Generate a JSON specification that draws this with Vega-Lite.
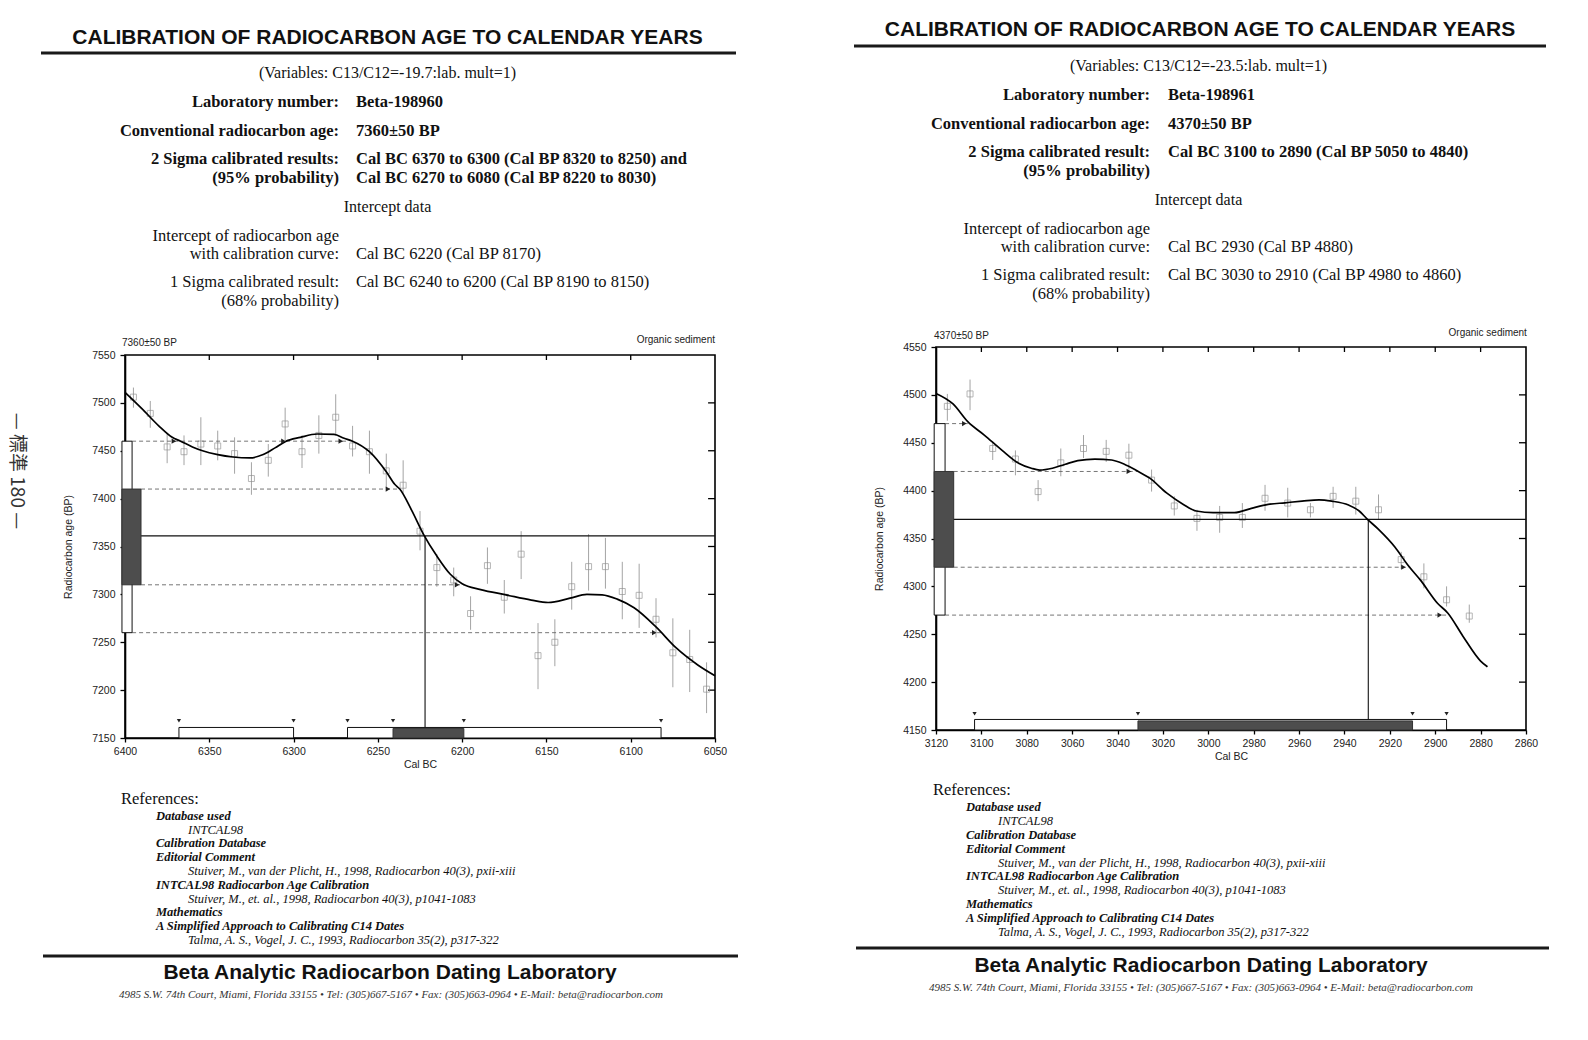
{
"$schema":"https://vega.github.io/schema/vega-lite/v6.json",
"padding":0,
"background":"#ffffff",
"bounds":"flush",
"spacing":811,
"config":{"view":{"stroke":null},"axis":{"labelFont":"Liberation Sans","titleFont":"Liberation Sans","grid":false},"text":{"font":"Liberation Serif","color":"#111111"}},
"datasets":{
"hdrL":[
{"role":"title","px":386.5,"ly":-3.6842,"text":"CALIBRATION OF RADIOCARBON  AGE TO CALENDAR YEARS"},
{"role":"page","px":16,"ly":41.895,"text":"— 標準 180 —"},
{"role":"note","px":386.5,"ly":0,"text":"(Variables:  C13/C12=-19.7:lab. mult=1)"},
{"role":"labelB","px":338,"ly":3.1,"text":"Laboratory number:"},
{"role":"valueB","px":355,"ly":3.1,"text":"Beta-198960"},
{"role":"labelB","px":338,"ly":6.15,"text":"Conventional radiocarbon age:"},
{"role":"valueB","px":355,"ly":6.15,"text":"7360±50 BP"},
{"role":"labelB","px":338,"ly":9.1,"text":"2 Sigma calibrated results:"},
{"role":"valueB","px":355,"ly":9.1,"text":"Cal BC 6370 to 6300 (Cal BP 8320 to 8250) and"},
{"role":"labelB","px":338,"ly":11.1,"text":"(95% probability)"},
{"role":"valueB","px":355,"ly":11.1,"text":"Cal BC 6270 to 6080 (Cal BP 8220 to 8030)"},
{"role":"note","px":386.5,"ly":14.1,"text":"Intercept data"},
{"role":"labelN","px":338,"ly":17.2,"text":"Intercept of radiocarbon age"},
{"role":"labelN","px":338,"ly":19.05,"text":"with calibration curve:"},
{"role":"valueN","px":355,"ly":19.05,"text":"Cal BC 6220 (Cal BP 8170)"},
{"role":"labelN","px":338,"ly":22,"text":"1 Sigma calibrated result:"},
{"role":"valueN","px":355,"ly":22,"text":"Cal BC 6240 to 6200 (Cal BP 8190 to 8150)"},
{"role":"labelN","px":338,"ly":23.95,"text":"(68% probability)"}
],
"ruleHL":[{"kind":"rule","px":40,"px2":735,"ly":-2.1053,"ly2":-2.1053},{"kind":"anchor","px":0,"px2":0,"ly":-7.578947,"ly2":-7.3}],
"hdrR":[
{"role":"title","px":1199,"ly":-3.7895,"text":"CALIBRATION OF RADIOCARBON  AGE TO CALENDAR YEARS"},
{"role":"note","px":1197.5,"ly":0,"text":"(Variables:  C13/C12=-23.5:lab. mult=1)"},
{"role":"labelB","px":1149,"ly":3.1,"text":"Laboratory number:"},
{"role":"valueB","px":1167,"ly":3.1,"text":"Beta-198961"},
{"role":"labelB","px":1149,"ly":6.15,"text":"Conventional radiocarbon age:"},
{"role":"valueB","px":1167,"ly":6.15,"text":"4370±50 BP"},
{"role":"labelB","px":1149,"ly":9.1,"text":"2 Sigma calibrated result:"},
{"role":"valueB","px":1167,"ly":9.1,"text":"Cal BC 3100 to 2890 (Cal BP 5050 to 4840)"},
{"role":"labelB","px":1149,"ly":11.1,"text":"(95% probability)"},
{"role":"note","px":1197.5,"ly":14.1,"text":"Intercept data"},
{"role":"labelN","px":1149,"ly":17.2,"text":"Intercept of radiocarbon age"},
{"role":"labelN","px":1149,"ly":19.05,"text":"with calibration curve:"},
{"role":"valueN","px":1167,"ly":19.05,"text":"Cal BC 2930 (Cal BP 4880)"},
{"role":"labelN","px":1149,"ly":22,"text":"1 Sigma calibrated result:"},
{"role":"valueN","px":1167,"ly":22,"text":"Cal BC 3030 to 2910 (Cal BP 4980 to 4860)"},
{"role":"labelN","px":1149,"ly":23.95,"text":"(68% probability)"}
],
"ruleHR":[{"kind":"rule","px":853,"px2":1545,"ly":-2.1053,"ly2":-2.1053}],
"refsL":[
{"role":"heading","px":120,"ly":-0.2,"text":"References:"},
{"role":"topic","px":155,"ly":1,"text":"Database used"},
{"role":"citation","px":187,"ly":2,"text":"INTCAL98"},
{"role":"topic","px":155,"ly":3,"text":"Calibration Database"},
{"role":"topic","px":155,"ly":4,"text":"Editorial Comment"},
{"role":"citation","px":187,"ly":5,"text":"Stuiver, M., van der Plicht, H., 1998, Radiocarbon 40(3), pxii-xiii"},
{"role":"topic","px":155,"ly":6,"text":"INTCAL98 Radiocarbon Age Calibration"},
{"role":"citation","px":187,"ly":7,"text":"Stuiver, M., et. al., 1998, Radiocarbon 40(3), p1041-1083"},
{"role":"topic","px":155,"ly":8,"text":"Mathematics"},
{"role":"topic","px":155,"ly":9,"text":"A Simplified Approach to Calibrating C14 Dates"},
{"role":"citation","px":187,"ly":10,"text":"Talma, A. S., Vogel, J. C., 1993, Radiocarbon 35(2), p317-322"},
{"role":"lab","px":389,"ly":12.3913,"text":"Beta Analytic Radiocarbon Dating Laboratory"},
{"role":"address","px":390,"ly":13.9855,"text":"4985 S.W. 74th Court, Miami, Florida 33155 • Tel: (305)667-5167 • Fax: (305)663-0964 • E-Mail: beta@radiocarbon.com"}
],
"ruleRL":[{"px":42,"px2":737,"ly":11.1594,"ly2":11.1594}],
"refsR":[
{"role":"heading","px":932,"ly":-0.2,"text":"References:"},
{"role":"topic","px":965,"ly":1,"text":"Database used"},
{"role":"citation","px":997,"ly":2,"text":"INTCAL98"},
{"role":"topic","px":965,"ly":3,"text":"Calibration Database"},
{"role":"topic","px":965,"ly":4,"text":"Editorial Comment"},
{"role":"citation","px":997,"ly":5,"text":"Stuiver, M., van der Plicht, H., 1998, Radiocarbon 40(3), pxii-xiii"},
{"role":"topic","px":965,"ly":6,"text":"INTCAL98 Radiocarbon Age Calibration"},
{"role":"citation","px":997,"ly":7,"text":"Stuiver, M., et. al., 1998, Radiocarbon 40(3), p1041-1083"},
{"role":"topic","px":965,"ly":8,"text":"Mathematics"},
{"role":"topic","px":965,"ly":9,"text":"A Simplified Approach to Calibrating C14 Dates"},
{"role":"citation","px":997,"ly":10,"text":"Talma, A. S., Vogel, J. C., 1993, Radiocarbon 35(2), p317-322"},
{"role":"lab","px":1200,"ly":12.446,"text":"Beta Analytic Radiocarbon Dating Laboratory"},
{"role":"address","px":1200,"ly":14.0288,"text":"4985 S.W. 74th Court, Miami, Florida 33155 • Tel: (305)667-5167 • Fax: (305)663-0964 • E-Mail: beta@radiocarbon.com"}
],
"ruleRR":[{"px":855,"px2":1548,"ly":11.1511,"ly2":11.1511}],
"frameL":[{"x0":6400,"x1":6050,"y0":7150,"y1":7550}],
"ticksL":[
{"x0":6350,"x1":6350,"y0":7550,"y1":7544.8},{"x0":6300,"x1":6300,"y0":7550,"y1":7544.8},{"x0":6250,"x1":6250,"y0":7550,"y1":7544.8},{"x0":6200,"x1":6200,"y0":7550,"y1":7544.8},{"x0":6150,"x1":6150,"y0":7550,"y1":7544.8},{"x0":6100,"x1":6100,"y0":7550,"y1":7544.8},
{"x0":6050,"x1":6054.1,"y0":7200,"y1":7200},{"x0":6050,"x1":6054.1,"y0":7250,"y1":7250},{"x0":6050,"x1":6054.1,"y0":7300,"y1":7300},{"x0":6050,"x1":6054.1,"y0":7350,"y1":7350},{"x0":6050,"x1":6054.1,"y0":7400,"y1":7400},{"x0":6050,"x1":6054.1,"y0":7450,"y1":7450},{"x0":6050,"x1":6054.1,"y0":7500,"y1":7500}
],
"curveL":[
{"year":6400,"age":7511},{"year":6390,"age":7494},{"year":6380,"age":7476},{"year":6372,"age":7464},{"year":6367,"age":7460},{"year":6360,"age":7454},{"year":6354,"age":7450},{"year":6345,"age":7446},{"year":6336,"age":7443.5},{"year":6326,"age":7442.5},{"year":6318,"age":7446},{"year":6311,"age":7453},{"year":6305,"age":7459.5},{"year":6296,"age":7464},{"year":6286,"age":7467.5},{"year":6276,"age":7467},{"year":6270,"age":7463},{"year":6265,"age":7460},{"year":6255,"age":7449},{"year":6245,"age":7428},{"year":6240,"age":7415},{"year":6237,"age":7410},{"year":6230,"age":7388},{"year":6223,"age":7363},{"year":6215,"age":7340},{"year":6207,"age":7321},{"year":6200,"age":7311},{"year":6189,"age":7305},{"year":6174,"age":7299.5},{"year":6159,"age":7294},{"year":6149,"age":7291.5},{"year":6136,"age":7296},{"year":6126,"age":7300},{"year":6117,"age":7299.5},{"year":6108,"age":7295},{"year":6098,"age":7286},{"year":6085,"age":7266},{"year":6073,"age":7244},{"year":6060,"age":7226},{"year":6050,"age":7215}
],
"ptsL":[
{"year":6395,"age":7506,"lo":7495,"hi":7516},{"year":6385,"age":7489,"lo":7474,"hi":7502},{"year":6375,"age":7454,"lo":7437,"hi":7468},{"year":6365,"age":7449,"lo":7435,"hi":7466},{"year":6355,"age":7457,"lo":7435,"hi":7485},{"year":6345,"age":7455,"lo":7440,"hi":7471},{"year":6335,"age":7447,"lo":7426,"hi":7464},{"year":6325,"age":7421,"lo":7404,"hi":7438},{"year":6315,"age":7440,"lo":7423,"hi":7457},{"year":6305,"age":7478,"lo":7461,"hi":7495},{"year":6295,"age":7449,"lo":7432,"hi":7466},{"year":6285,"age":7466,"lo":7447,"hi":7487},{"year":6275,"age":7485,"lo":7466,"hi":7509},{"year":6265,"age":7455,"lo":7444,"hi":7476},{"year":6255,"age":7449,"lo":7426,"hi":7471},{"year":6245,"age":7429,"lo":7411,"hi":7447},{"year":6235,"age":7414,"lo":7406,"hi":7440},{"year":6225,"age":7366,"lo":7346,"hi":7387},{"year":6215,"age":7328,"lo":7308,"hi":7342},{"year":6205,"age":7315,"lo":7298,"hi":7328},{"year":6195,"age":7280,"lo":7263,"hi":7298},{"year":6185,"age":7330,"lo":7311,"hi":7349},{"year":6175,"age":7297,"lo":7280,"hi":7315},{"year":6165,"age":7342,"lo":7316,"hi":7366},{"year":6155,"age":7236,"lo":7201,"hi":7270},{"year":6145,"age":7250,"lo":7225,"hi":7274},{"year":6135,"age":7308,"lo":7284,"hi":7334},{"year":6125,"age":7329,"lo":7304,"hi":7363},{"year":6115,"age":7329,"lo":7306,"hi":7359},{"year":6105,"age":7303,"lo":7274,"hi":7334},{"year":6095,"age":7299,"lo":7265,"hi":7332},{"year":6085,"age":7274,"lo":7255,"hi":7296},{"year":6075,"age":7239,"lo":7203,"hi":7275},{"year":6065,"age":7232,"lo":7198,"hi":7263},{"year":6055,"age":7201,"lo":7176,"hi":7229}
],
"sigL":[{"age":7460,"from":6395.8,"to":6267},{"age":7410,"from":6390.5,"to":6238},{"age":7310,"from":6390.5,"to":6199},{"age":7260,"from":6395.8,"to":6082}],
"arrowsL":[{"year":6371,"age":7460},{"year":6306,"age":7460},{"year":6272,"age":7460},{"year":6244,"age":7410},{"year":6203,"age":7310},{"year":6086,"age":7260}],
"calL":[{"sigma":2,"from":6368,"to":6300,"y0":7150,"y1":7161},{"sigma":2,"from":6268,"to":6082,"y0":7150,"y1":7161},{"sigma":1,"from":6241,"to":6199,"y0":7150,"y1":7160}],
"endsL":[{"year":6368,"my":7168},{"year":6300,"my":7168},{"year":6268,"my":7168},{"year":6082,"my":7168},{"year":6241,"my":7168},{"year":6199,"my":7168}],
"distL":[{"sigma":2,"lo":7260,"hi":7460,"x0":6401.8,"x1":6395.8},{"sigma":1,"lo":7310,"hi":7410,"x0":6401.8,"x1":6390.5}],
"intL":[{"year":6222,"age":7361,"x0":6400,"x1":6050,"base":7150}],
"labL":[{"role":"age","px":6401.8,"py":7562.5,"text":"7360±50 BP"},{"role":"sample","px":6050,"py":7565.6,"text":"Organic sediment"}],
"frameR":[{"x0":3120,"x1":2860,"y0":4150,"y1":4550}],
"ticksR":[
{"x0":3100,"x1":3100,"y0":4550,"y1":4544.8},{"x0":3080,"x1":3080,"y0":4550,"y1":4544.8},{"x0":3060,"x1":3060,"y0":4550,"y1":4544.8},{"x0":3040,"x1":3040,"y0":4550,"y1":4544.8},{"x0":3020,"x1":3020,"y0":4550,"y1":4544.8},{"x0":3000,"x1":3000,"y0":4550,"y1":4544.8},{"x0":2980,"x1":2980,"y0":4550,"y1":4544.8},{"x0":2960,"x1":2960,"y0":4550,"y1":4544.8},{"x0":2940,"x1":2940,"y0":4550,"y1":4544.8},{"x0":2920,"x1":2920,"y0":4550,"y1":4544.8},{"x0":2900,"x1":2900,"y0":4550,"y1":4544.8},{"x0":2880,"x1":2880,"y0":4550,"y1":4544.8},
{"x0":2860,"x1":2863.1,"y0":4200,"y1":4200},{"x0":2860,"x1":2863.1,"y0":4250,"y1":4250},{"x0":2860,"x1":2863.1,"y0":4300,"y1":4300},{"x0":2860,"x1":2863.1,"y0":4350,"y1":4350},{"x0":2860,"x1":2863.1,"y0":4400,"y1":4400},{"x0":2860,"x1":2863.1,"y0":4450,"y1":4450},{"x0":2860,"x1":2863.1,"y0":4500,"y1":4500}
],
"curveR":[
{"year":3120,"age":4501.5},{"year":3112.5,"age":4490.5},{"year":3106,"age":4472},{"year":3098.6,"age":4457.8},{"year":3091,"age":4442.3},{"year":3083.6,"age":4428.6},{"year":3078,"age":4423.4},{"year":3074.3,"age":4421.5},{"year":3068.7,"age":4423.4},{"year":3063,"age":4427.6},{"year":3057.5,"age":4431.3},{"year":3050,"age":4433},{"year":3042.6,"age":4432},{"year":3037,"age":4427.6},{"year":3031.4,"age":4420.7},{"year":3025.8,"age":4413},{"year":3018.4,"age":4397.6},{"year":3011,"age":4385.6},{"year":3005.3,"age":4378.7},{"year":2997.9,"age":4377},{"year":2988.5,"age":4377},{"year":2981,"age":4381.5},{"year":2973.6,"age":4385.6},{"year":2966.2,"age":4387.3},{"year":2958.7,"age":4389},{"year":2951.2,"age":4390.4},{"year":2945.6,"age":4389},{"year":2938.2,"age":4384.9},{"year":2933.5,"age":4378.7},{"year":2930.2,"age":4370.8},{"year":2925.1,"age":4359.8},{"year":2917.7,"age":4340.9},{"year":2912,"age":4322},{"year":2906.5,"age":4306.5},{"year":2899,"age":4282.4},{"year":2894.4,"age":4272},{"year":2887.8,"age":4248},{"year":2880,"age":4222},{"year":2877,"age":4216}
],
"ptsR":[
{"year":3115,"age":4488,"lo":4473,"hi":4501},{"year":3105,"age":4501,"lo":4484,"hi":4516},{"year":3095,"age":4444,"lo":4432,"hi":4451},{"year":3085,"age":4433,"lo":4416,"hi":4442},{"year":3075,"age":4399,"lo":4389,"hi":4411},{"year":3065,"age":4429,"lo":4415,"hi":4444},{"year":3055,"age":4444,"lo":4434,"hi":4458},{"year":3045,"age":4441,"lo":4430,"hi":4453},{"year":3035,"age":4437,"lo":4422,"hi":4449},{"year":3025,"age":4411,"lo":4399,"hi":4422},{"year":3015,"age":4384,"lo":4374,"hi":4394},{"year":3005,"age":4371,"lo":4358,"hi":4380},{"year":2995,"age":4372,"lo":4356,"hi":4384},{"year":2985,"age":4372,"lo":4361,"hi":4387},{"year":2975,"age":4392,"lo":4379,"hi":4406},{"year":2965,"age":4387,"lo":4372,"hi":4403},{"year":2955,"age":4380,"lo":4372,"hi":4387},{"year":2945,"age":4394,"lo":4382,"hi":4404},{"year":2935,"age":4389,"lo":4375,"hi":4404},{"year":2925,"age":4380,"lo":4370,"hi":4396},{"year":2915,"age":4328,"lo":4318,"hi":4336},{"year":2905,"age":4310,"lo":4298,"hi":4324},{"year":2895,"age":4286,"lo":4279,"hi":4300},{"year":2885,"age":4269,"lo":4262,"hi":4281}
],
"sigR":[{"age":4470,"from":3116,"to":3106},{"age":4420,"from":3112.2,"to":3031},{"age":4320,"from":3112.2,"to":2911},{"age":4270,"from":3116,"to":2895}],
"arrowsR":[{"year":3107.5,"age":4470},{"year":3035,"age":4420},{"year":2914,"age":4320},{"year":2898,"age":4270}],
"calR":[{"sigma":2,"from":3103,"to":2895,"y0":4150,"y1":4161},{"sigma":1,"from":3031,"to":2910,"y0":4150,"y1":4159.5}],
"endsR":[{"year":3103,"my":4167},{"year":2895,"my":4167},{"year":3031,"my":4167},{"year":2910,"my":4167}],
"distR":[{"sigma":2,"lo":4270,"hi":4470,"x0":3120.8,"x1":3116},{"sigma":1,"lo":4320,"hi":4420,"x0":3120.8,"x1":3112.2}],
"intR":[{"year":2929.5,"age":4370,"x0":3120,"x1":2860,"base":4150}],
"labR":[{"role":"age","px":3120.9,"py":4561.5,"text":"4370±50 BP"},{"role":"sample","px":2859.6,"py":4564.6,"text":"Organic sediment"}]
},
"hconcat":[
{"spacing":0,"bounds":"flush","vconcat":[
{"width":590,"height":354,"layer":[
{"data":{"name":"ruleHL"},"transform":[{"filter":"datum.kind == 'anchor'"}],"mark":{"type":"rule","color":"#ffffff","strokeWidth":0.5},"encoding":{"x":{"field":"px","type":"quantitative","scale":{"domain":[124,714],"zero":false,"nice":false},"axis":null},"x2":{"field":"px2"},"y":{"field":"ly","type":"quantitative","scale":{"domain":[-7.578947,29.684211],"reverse":true,"zero":false,"nice":false},"axis":null},"y2":{"field":"ly2"}}},
{"data":{"name":"ruleHL"},"transform":[{"filter":"datum.kind == 'rule'"}],"mark":{"type":"rule","color":"#1a1a1a","strokeWidth":3},"encoding":{"x":{"field":"px","type":"quantitative","scale":{"domain":[124,714],"zero":false,"nice":false},"axis":null},"x2":{"field":"px2"},"y":{"field":"ly","type":"quantitative","scale":{"domain":[-7.578947,29.684211],"reverse":true,"zero":false,"nice":false},"axis":null},"y2":{"field":"ly2"}}},
{"data":{"name":"hdrL"},"transform":[{"filter":"datum.role == 'title'"}],"mark":{"type":"text","font":"Liberation Sans","fontWeight":"bold","fontSize":21,"align":"center","baseline":"middle"},"encoding":{"text":{"field":"text","type":"nominal"},"x":{"field":"px","type":"quantitative","scale":{"domain":[124,714],"zero":false,"nice":false},"axis":null},"y":{"field":"ly","type":"quantitative","scale":{"domain":[-7.578947,29.684211],"reverse":true,"zero":false,"nice":false},"axis":null}}},
{"data":{"name":"hdrL"},"transform":[{"filter":"datum.role == 'page'"}],"mark":{"type":"text","font":"Noto Sans CJK TC","fontSize":19,"angle":90,"align":"center","baseline":"middle","color":"#333333"},"encoding":{"text":{"field":"text","type":"nominal"},"x":{"field":"px","type":"quantitative","scale":{"domain":[124,714],"zero":false,"nice":false},"axis":null},"y":{"field":"ly","type":"quantitative","scale":{"domain":[-7.578947,29.684211],"reverse":true,"zero":false,"nice":false},"axis":null}}},
{"data":{"name":"hdrL"},"transform":[{"filter":"datum.role == 'note'"}],"mark":{"type":"text","fontSize":16,"align":"center","baseline":"middle"},"encoding":{"text":{"field":"text","type":"nominal"},"x":{"field":"px","type":"quantitative","scale":{"domain":[124,714],"zero":false,"nice":false},"axis":null},"y":{"field":"ly","type":"quantitative","scale":{"domain":[-7.578947,29.684211],"reverse":true,"zero":false,"nice":false},"axis":null}}},
{"data":{"name":"hdrL"},"transform":[{"filter":"datum.role == 'labelB'"}],"mark":{"type":"text","fontSize":16.5,"fontWeight":"bold","align":"right","baseline":"middle"},"encoding":{"text":{"field":"text","type":"nominal"},"x":{"field":"px","type":"quantitative","scale":{"domain":[124,714],"zero":false,"nice":false},"axis":null},"y":{"field":"ly","type":"quantitative","scale":{"domain":[-7.578947,29.684211],"reverse":true,"zero":false,"nice":false},"axis":null}}},
{"data":{"name":"hdrL"},"transform":[{"filter":"datum.role == 'valueB'"}],"mark":{"type":"text","fontSize":16.5,"fontWeight":"bold","align":"left","baseline":"middle"},"encoding":{"text":{"field":"text","type":"nominal"},"x":{"field":"px","type":"quantitative","scale":{"domain":[124,714],"zero":false,"nice":false},"axis":null},"y":{"field":"ly","type":"quantitative","scale":{"domain":[-7.578947,29.684211],"reverse":true,"zero":false,"nice":false},"axis":null}}},
{"data":{"name":"hdrL"},"transform":[{"filter":"datum.role == 'labelN'"}],"mark":{"type":"text","fontSize":16.5,"align":"right","baseline":"middle"},"encoding":{"text":{"field":"text","type":"nominal"},"x":{"field":"px","type":"quantitative","scale":{"domain":[124,714],"zero":false,"nice":false},"axis":null},"y":{"field":"ly","type":"quantitative","scale":{"domain":[-7.578947,29.684211],"reverse":true,"zero":false,"nice":false},"axis":null}}},
{"data":{"name":"hdrL"},"transform":[{"filter":"datum.role == 'valueN'"}],"mark":{"type":"text","fontSize":16.5,"align":"left","baseline":"middle"},"encoding":{"text":{"field":"text","type":"nominal"},"x":{"field":"px","type":"quantitative","scale":{"domain":[124,714],"zero":false,"nice":false},"axis":null},"y":{"field":"ly","type":"quantitative","scale":{"domain":[-7.578947,29.684211],"reverse":true,"zero":false,"nice":false},"axis":null}}}
]},
{"width":590,"height":383,"layer":[
{"data":{"name":"frameL"},"mark":{"type":"rect","filled":false,"color":"#000000","strokeWidth":1.6},"encoding":{"x":{"field":"x0","type":"quantitative","scale":{"domain":[6400,6050],"zero":false,"nice":false}},"x2":{"field":"x1"},"y":{"field":"y0","type":"quantitative","scale":{"domain":[7150,7550],"zero":false,"nice":false}},"y2":{"field":"y1"}}},
{"data":{"name":"ticksL"},"mark":{"type":"rule","color":"#000000","strokeWidth":1.3},"encoding":{"x":{"field":"x0","type":"quantitative","scale":{"domain":[6400,6050],"zero":false,"nice":false}},"x2":{"field":"x1"},"y":{"field":"y0","type":"quantitative","scale":{"domain":[7150,7550],"zero":false,"nice":false}},"y2":{"field":"y1"}}},
{"data":{"name":"ptsL"},"mark":{"type":"rule","color":"#9a9a9a","strokeWidth":0.9},"encoding":{"x":{"field":"year","type":"quantitative","scale":{"domain":[6400,6050],"zero":false,"nice":false}},"y":{"field":"lo","type":"quantitative","scale":{"domain":[7150,7550],"zero":false,"nice":false}},"y2":{"field":"hi"}}},
{"data":{"name":"ptsL"},"mark":{"type":"point","shape":"square","filled":false,"size":36,"color":"#8c8c8c","strokeWidth":0.9},"encoding":{"x":{"field":"year","type":"quantitative","scale":{"domain":[6400,6050],"zero":false,"nice":false}},"y":{"field":"age","type":"quantitative","scale":{"domain":[7150,7550],"zero":false,"nice":false}}}},
{"data":{"name":"sigL"},"mark":{"type":"rule","color":"#666666","strokeWidth":0.9,"strokeDash":[4,3]},"encoding":{"x":{"field":"from","type":"quantitative","scale":{"domain":[6400,6050],"zero":false,"nice":false}},"x2":{"field":"to"},"y":{"field":"age","type":"quantitative","scale":{"domain":[7150,7550],"zero":false,"nice":false}}}},
{"data":{"name":"intL"},"mark":{"type":"rule","color":"#111111","strokeWidth":1.2},"encoding":{"x":{"field":"x0","type":"quantitative","scale":{"domain":[6400,6050],"zero":false,"nice":false}},"x2":{"field":"x1"},"y":{"field":"age","type":"quantitative","scale":{"domain":[7150,7550],"zero":false,"nice":false}}}},
{"data":{"name":"intL"},"mark":{"type":"rule","color":"#111111","strokeWidth":1.1},"encoding":{"x":{"field":"year","type":"quantitative","scale":{"domain":[6400,6050],"zero":false,"nice":false}},"y":{"field":"base","type":"quantitative","scale":{"domain":[7150,7550],"zero":false,"nice":false}},"y2":{"field":"age"}}},
{"data":{"name":"curveL"},"mark":{"type":"line","color":"#000000","strokeWidth":1.7,"interpolate":"monotone"},"encoding":{"x":{"field":"year","type":"quantitative","scale":{"domain":[6400,6050],"zero":false,"nice":false},"axis":{"values":[6400,6350,6300,6250,6200,6150,6100,6050],"format":"d","title":"Cal BC","tickSize":4,"labelPadding":4,"titlePadding":3,"domainWidth":1.6,"domainColor":"#000000","tickColor":"#000000","tickWidth":1.3,"labelFontSize":10.5,"titleFontSize":10.5,"titleFontWeight":"normal","labelColor":"#222222","titleColor":"#222222","grid":false,"labelFlush":false}},"y":{"field":"age","type":"quantitative","scale":{"domain":[7150,7550],"zero":false,"nice":false},"axis":{"values":[7150,7200,7250,7300,7350,7400,7450,7500,7550],"format":"d","title":"Radiocarbon age (BP)","tickSize":5,"labelPadding":5,"titlePadding":18,"domainWidth":1.6,"domainColor":"#000000","tickColor":"#000000","tickWidth":1.3,"labelFontSize":10.5,"titleFontSize":10.5,"titleFontWeight":"normal","labelColor":"#222222","titleColor":"#222222","grid":false}}}},
{"data":{"name":"arrowsL"},"mark":{"type":"point","shape":"triangle-right","filled":true,"size":28,"color":"#222222","opacity":1},"encoding":{"x":{"field":"year","type":"quantitative","scale":{"domain":[6400,6050],"zero":false,"nice":false}},"y":{"field":"age","type":"quantitative","scale":{"domain":[7150,7550],"zero":false,"nice":false}}}},
{"data":{"name":"distL"},"transform":[{"filter":"datum.sigma == 2"}],"mark":{"type":"rect","fill":"#ffffff","stroke":"#111111","strokeWidth":1},"encoding":{"x":{"field":"x0","type":"quantitative","scale":{"domain":[6400,6050],"zero":false,"nice":false}},"x2":{"field":"x1"},"y":{"field":"lo","type":"quantitative","scale":{"domain":[7150,7550],"zero":false,"nice":false}},"y2":{"field":"hi"}}},
{"data":{"name":"distL"},"transform":[{"filter":"datum.sigma == 1"}],"mark":{"type":"rect","fill":"#4d4d4d","stroke":"#333333","strokeWidth":1},"encoding":{"x":{"field":"x0","type":"quantitative","scale":{"domain":[6400,6050],"zero":false,"nice":false}},"x2":{"field":"x1"},"y":{"field":"lo","type":"quantitative","scale":{"domain":[7150,7550],"zero":false,"nice":false}},"y2":{"field":"hi"}}},
{"data":{"name":"calL"},"transform":[{"filter":"datum.sigma == 2"}],"mark":{"type":"rect","fill":"#ffffff","stroke":"#111111","strokeWidth":1},"encoding":{"x":{"field":"from","type":"quantitative","scale":{"domain":[6400,6050],"zero":false,"nice":false}},"x2":{"field":"to"},"y":{"field":"y0","type":"quantitative","scale":{"domain":[7150,7550],"zero":false,"nice":false}},"y2":{"field":"y1"}}},
{"data":{"name":"calL"},"transform":[{"filter":"datum.sigma == 1"}],"mark":{"type":"rect","fill":"#4d4d4d","stroke":"#333333","strokeWidth":1},"encoding":{"x":{"field":"from","type":"quantitative","scale":{"domain":[6400,6050],"zero":false,"nice":false}},"x2":{"field":"to"},"y":{"field":"y0","type":"quantitative","scale":{"domain":[7150,7550],"zero":false,"nice":false}},"y2":{"field":"y1"}}},
{"data":{"name":"endsL"},"mark":{"type":"point","shape":"triangle-down","filled":true,"size":18,"color":"#222222","opacity":1},"encoding":{"x":{"field":"year","type":"quantitative","scale":{"domain":[6400,6050],"zero":false,"nice":false}},"y":{"field":"my","type":"quantitative","scale":{"domain":[7150,7550],"zero":false,"nice":false}}}},
{"data":{"name":"labL"},"transform":[{"filter":"datum.role == 'age'"}],"mark":{"type":"text","font":"Liberation Sans","fontSize":10,"align":"left","baseline":"middle","color":"#222222"},"encoding":{"text":{"field":"text","type":"nominal"},"x":{"field":"px","type":"quantitative","scale":{"domain":[6400,6050],"zero":false,"nice":false}},"y":{"field":"py","type":"quantitative","scale":{"domain":[7150,7550],"zero":false,"nice":false}}}},
{"data":{"name":"labL"},"transform":[{"filter":"datum.role == 'sample'"}],"mark":{"type":"text","font":"Liberation Sans","fontSize":10,"align":"right","baseline":"middle","color":"#222222"},"encoding":{"text":{"field":"text","type":"nominal"},"x":{"field":"px","type":"quantitative","scale":{"domain":[6400,6050],"zero":false,"nice":false}},"y":{"field":"py","type":"quantitative","scale":{"domain":[7150,7550],"zero":false,"nice":false}}}}
]},
{"width":590,"height":303,"layer":[
{"data":{"name":"ruleRL"},"mark":{"type":"rule","color":"#1a1a1a","strokeWidth":3},"encoding":{"x":{"field":"px","type":"quantitative","scale":{"domain":[124,714],"zero":false,"nice":false},"axis":null},"x2":{"field":"px2"},"y":{"field":"ly","type":"quantitative","scale":{"domain":[-4.637681,17.318841],"reverse":true,"zero":false,"nice":false},"axis":null},"y2":{"field":"ly2"}}},
{"data":{"name":"refsL"},"transform":[{"filter":"datum.role == 'heading'"}],"mark":{"type":"text","fontSize":16.5,"align":"left","baseline":"middle"},"encoding":{"text":{"field":"text","type":"nominal"},"x":{"field":"px","type":"quantitative","scale":{"domain":[124,714],"zero":false,"nice":false},"axis":null},"y":{"field":"ly","type":"quantitative","scale":{"domain":[-4.637681,17.318841],"reverse":true,"zero":false,"nice":false},"axis":null}}},
{"data":{"name":"refsL"},"transform":[{"filter":"datum.role == 'topic'"}],"mark":{"type":"text","fontSize":12.5,"fontStyle":"italic","fontWeight":"bold","align":"left","baseline":"middle"},"encoding":{"text":{"field":"text","type":"nominal"},"x":{"field":"px","type":"quantitative","scale":{"domain":[124,714],"zero":false,"nice":false},"axis":null},"y":{"field":"ly","type":"quantitative","scale":{"domain":[-4.637681,17.318841],"reverse":true,"zero":false,"nice":false},"axis":null}}},
{"data":{"name":"refsL"},"transform":[{"filter":"datum.role == 'citation'"}],"mark":{"type":"text","fontSize":12.5,"fontStyle":"italic","align":"left","baseline":"middle"},"encoding":{"text":{"field":"text","type":"nominal"},"x":{"field":"px","type":"quantitative","scale":{"domain":[124,714],"zero":false,"nice":false},"axis":null},"y":{"field":"ly","type":"quantitative","scale":{"domain":[-4.637681,17.318841],"reverse":true,"zero":false,"nice":false},"axis":null}}},
{"data":{"name":"refsL"},"transform":[{"filter":"datum.role == 'lab'"}],"mark":{"type":"text","font":"Liberation Sans","fontWeight":"bold","fontSize":21,"align":"center","baseline":"middle"},"encoding":{"text":{"field":"text","type":"nominal"},"x":{"field":"px","type":"quantitative","scale":{"domain":[124,714],"zero":false,"nice":false},"axis":null},"y":{"field":"ly","type":"quantitative","scale":{"domain":[-4.637681,17.318841],"reverse":true,"zero":false,"nice":false},"axis":null}}},
{"data":{"name":"refsL"},"transform":[{"filter":"datum.role == 'address'"}],"mark":{"type":"text","fontSize":11,"fontStyle":"italic","align":"center","baseline":"middle","color":"#333333"},"encoding":{"text":{"field":"text","type":"nominal"},"x":{"field":"px","type":"quantitative","scale":{"domain":[124,714],"zero":false,"nice":false},"axis":null},"y":{"field":"ly","type":"quantitative","scale":{"domain":[-4.637681,17.318841],"reverse":true,"zero":false,"nice":false},"axis":null}}}
]}
]},
{"spacing":0,"bounds":"flush","vconcat":[
{"width":590,"height":346,"layer":[
{"data":{"name":"ruleHR"},"mark":{"type":"rule","color":"#1a1a1a","strokeWidth":3},"encoding":{"x":{"field":"px","type":"quantitative","scale":{"domain":[935,1525],"zero":false,"nice":false},"axis":null},"x2":{"field":"px2"},"y":{"field":"ly","type":"quantitative","scale":{"domain":[-6.842105,29.578947],"reverse":true,"zero":false,"nice":false},"axis":null},"y2":{"field":"ly2"}}},
{"data":{"name":"hdrR"},"transform":[{"filter":"datum.role == 'title'"}],"mark":{"type":"text","font":"Liberation Sans","fontWeight":"bold","fontSize":21,"align":"center","baseline":"middle"},"encoding":{"text":{"field":"text","type":"nominal"},"x":{"field":"px","type":"quantitative","scale":{"domain":[935,1525],"zero":false,"nice":false},"axis":null},"y":{"field":"ly","type":"quantitative","scale":{"domain":[-6.842105,29.578947],"reverse":true,"zero":false,"nice":false},"axis":null}}},
{"data":{"name":"hdrR"},"transform":[{"filter":"datum.role == 'note'"}],"mark":{"type":"text","fontSize":16,"align":"center","baseline":"middle"},"encoding":{"text":{"field":"text","type":"nominal"},"x":{"field":"px","type":"quantitative","scale":{"domain":[935,1525],"zero":false,"nice":false},"axis":null},"y":{"field":"ly","type":"quantitative","scale":{"domain":[-6.842105,29.578947],"reverse":true,"zero":false,"nice":false},"axis":null}}},
{"data":{"name":"hdrR"},"transform":[{"filter":"datum.role == 'labelB'"}],"mark":{"type":"text","fontSize":16.5,"fontWeight":"bold","align":"right","baseline":"middle"},"encoding":{"text":{"field":"text","type":"nominal"},"x":{"field":"px","type":"quantitative","scale":{"domain":[935,1525],"zero":false,"nice":false},"axis":null},"y":{"field":"ly","type":"quantitative","scale":{"domain":[-6.842105,29.578947],"reverse":true,"zero":false,"nice":false},"axis":null}}},
{"data":{"name":"hdrR"},"transform":[{"filter":"datum.role == 'valueB'"}],"mark":{"type":"text","fontSize":16.5,"fontWeight":"bold","align":"left","baseline":"middle"},"encoding":{"text":{"field":"text","type":"nominal"},"x":{"field":"px","type":"quantitative","scale":{"domain":[935,1525],"zero":false,"nice":false},"axis":null},"y":{"field":"ly","type":"quantitative","scale":{"domain":[-6.842105,29.578947],"reverse":true,"zero":false,"nice":false},"axis":null}}},
{"data":{"name":"hdrR"},"transform":[{"filter":"datum.role == 'labelN'"}],"mark":{"type":"text","fontSize":16.5,"align":"right","baseline":"middle"},"encoding":{"text":{"field":"text","type":"nominal"},"x":{"field":"px","type":"quantitative","scale":{"domain":[935,1525],"zero":false,"nice":false},"axis":null},"y":{"field":"ly","type":"quantitative","scale":{"domain":[-6.842105,29.578947],"reverse":true,"zero":false,"nice":false},"axis":null}}},
{"data":{"name":"hdrR"},"transform":[{"filter":"datum.role == 'valueN'"}],"mark":{"type":"text","fontSize":16.5,"align":"left","baseline":"middle"},"encoding":{"text":{"field":"text","type":"nominal"},"x":{"field":"px","type":"quantitative","scale":{"domain":[935,1525],"zero":false,"nice":false},"axis":null},"y":{"field":"ly","type":"quantitative","scale":{"domain":[-6.842105,29.578947],"reverse":true,"zero":false,"nice":false},"axis":null}}}
]},
{"width":590,"height":383,"layer":[
{"data":{"name":"frameR"},"mark":{"type":"rect","filled":false,"color":"#000000","strokeWidth":1.6},"encoding":{"x":{"field":"x0","type":"quantitative","scale":{"domain":[3120,2860],"zero":false,"nice":false}},"x2":{"field":"x1"},"y":{"field":"y0","type":"quantitative","scale":{"domain":[4150,4550],"zero":false,"nice":false}},"y2":{"field":"y1"}}},
{"data":{"name":"ticksR"},"mark":{"type":"rule","color":"#000000","strokeWidth":1.3},"encoding":{"x":{"field":"x0","type":"quantitative","scale":{"domain":[3120,2860],"zero":false,"nice":false}},"x2":{"field":"x1"},"y":{"field":"y0","type":"quantitative","scale":{"domain":[4150,4550],"zero":false,"nice":false}},"y2":{"field":"y1"}}},
{"data":{"name":"ptsR"},"mark":{"type":"rule","color":"#9a9a9a","strokeWidth":0.9},"encoding":{"x":{"field":"year","type":"quantitative","scale":{"domain":[3120,2860],"zero":false,"nice":false}},"y":{"field":"lo","type":"quantitative","scale":{"domain":[4150,4550],"zero":false,"nice":false}},"y2":{"field":"hi"}}},
{"data":{"name":"ptsR"},"mark":{"type":"point","shape":"square","filled":false,"size":36,"color":"#8c8c8c","strokeWidth":0.9},"encoding":{"x":{"field":"year","type":"quantitative","scale":{"domain":[3120,2860],"zero":false,"nice":false}},"y":{"field":"age","type":"quantitative","scale":{"domain":[4150,4550],"zero":false,"nice":false}}}},
{"data":{"name":"sigR"},"mark":{"type":"rule","color":"#666666","strokeWidth":0.9,"strokeDash":[4,3]},"encoding":{"x":{"field":"from","type":"quantitative","scale":{"domain":[3120,2860],"zero":false,"nice":false}},"x2":{"field":"to"},"y":{"field":"age","type":"quantitative","scale":{"domain":[4150,4550],"zero":false,"nice":false}}}},
{"data":{"name":"intR"},"mark":{"type":"rule","color":"#111111","strokeWidth":1.2},"encoding":{"x":{"field":"x0","type":"quantitative","scale":{"domain":[3120,2860],"zero":false,"nice":false}},"x2":{"field":"x1"},"y":{"field":"age","type":"quantitative","scale":{"domain":[4150,4550],"zero":false,"nice":false}}}},
{"data":{"name":"intR"},"mark":{"type":"rule","color":"#111111","strokeWidth":1.1},"encoding":{"x":{"field":"year","type":"quantitative","scale":{"domain":[3120,2860],"zero":false,"nice":false}},"y":{"field":"base","type":"quantitative","scale":{"domain":[4150,4550],"zero":false,"nice":false}},"y2":{"field":"age"}}},
{"data":{"name":"curveR"},"mark":{"type":"line","color":"#000000","strokeWidth":1.7,"interpolate":"monotone"},"encoding":{"x":{"field":"year","type":"quantitative","scale":{"domain":[3120,2860],"zero":false,"nice":false},"axis":{"values":[3120,3100,3080,3060,3040,3020,3000,2980,2960,2940,2920,2900,2880,2860],"format":"d","title":"Cal BC","tickSize":4,"labelPadding":4,"titlePadding":3,"domainWidth":1.6,"domainColor":"#000000","tickColor":"#000000","tickWidth":1.3,"labelFontSize":10.5,"titleFontSize":10.5,"titleFontWeight":"normal","labelColor":"#222222","titleColor":"#222222","grid":false,"labelFlush":false,"labelOverlap":false}},"y":{"field":"age","type":"quantitative","scale":{"domain":[4150,4550],"zero":false,"nice":false},"axis":{"values":[4150,4200,4250,4300,4350,4400,4450,4500,4550],"format":"d","title":"Radiocarbon age (BP)","tickSize":5,"labelPadding":5,"titlePadding":18,"domainWidth":1.6,"domainColor":"#000000","tickColor":"#000000","tickWidth":1.3,"labelFontSize":10.5,"titleFontSize":10.5,"titleFontWeight":"normal","labelColor":"#222222","titleColor":"#222222","grid":false}}}},
{"data":{"name":"arrowsR"},"mark":{"type":"point","shape":"triangle-right","filled":true,"size":28,"color":"#222222","opacity":1},"encoding":{"x":{"field":"year","type":"quantitative","scale":{"domain":[3120,2860],"zero":false,"nice":false}},"y":{"field":"age","type":"quantitative","scale":{"domain":[4150,4550],"zero":false,"nice":false}}}},
{"data":{"name":"distR"},"transform":[{"filter":"datum.sigma == 2"}],"mark":{"type":"rect","fill":"#ffffff","stroke":"#111111","strokeWidth":1},"encoding":{"x":{"field":"x0","type":"quantitative","scale":{"domain":[3120,2860],"zero":false,"nice":false}},"x2":{"field":"x1"},"y":{"field":"lo","type":"quantitative","scale":{"domain":[4150,4550],"zero":false,"nice":false}},"y2":{"field":"hi"}}},
{"data":{"name":"distR"},"transform":[{"filter":"datum.sigma == 1"}],"mark":{"type":"rect","fill":"#4d4d4d","stroke":"#333333","strokeWidth":1},"encoding":{"x":{"field":"x0","type":"quantitative","scale":{"domain":[3120,2860],"zero":false,"nice":false}},"x2":{"field":"x1"},"y":{"field":"lo","type":"quantitative","scale":{"domain":[4150,4550],"zero":false,"nice":false}},"y2":{"field":"hi"}}},
{"data":{"name":"calR"},"transform":[{"filter":"datum.sigma == 2"}],"mark":{"type":"rect","fill":"#ffffff","stroke":"#111111","strokeWidth":1},"encoding":{"x":{"field":"from","type":"quantitative","scale":{"domain":[3120,2860],"zero":false,"nice":false}},"x2":{"field":"to"},"y":{"field":"y0","type":"quantitative","scale":{"domain":[4150,4550],"zero":false,"nice":false}},"y2":{"field":"y1"}}},
{"data":{"name":"calR"},"transform":[{"filter":"datum.sigma == 1"}],"mark":{"type":"rect","fill":"#4d4d4d","stroke":"#333333","strokeWidth":1},"encoding":{"x":{"field":"from","type":"quantitative","scale":{"domain":[3120,2860],"zero":false,"nice":false}},"x2":{"field":"to"},"y":{"field":"y0","type":"quantitative","scale":{"domain":[4150,4550],"zero":false,"nice":false}},"y2":{"field":"y1"}}},
{"data":{"name":"endsR"},"mark":{"type":"point","shape":"triangle-down","filled":true,"size":18,"color":"#222222","opacity":1},"encoding":{"x":{"field":"year","type":"quantitative","scale":{"domain":[3120,2860],"zero":false,"nice":false}},"y":{"field":"my","type":"quantitative","scale":{"domain":[4150,4550],"zero":false,"nice":false}}}},
{"data":{"name":"labR"},"transform":[{"filter":"datum.role == 'age'"}],"mark":{"type":"text","font":"Liberation Sans","fontSize":10,"align":"left","baseline":"middle","color":"#222222"},"encoding":{"text":{"field":"text","type":"nominal"},"x":{"field":"px","type":"quantitative","scale":{"domain":[3120,2860],"zero":false,"nice":false}},"y":{"field":"py","type":"quantitative","scale":{"domain":[4150,4550],"zero":false,"nice":false}}}},
{"data":{"name":"labR"},"transform":[{"filter":"datum.role == 'sample'"}],"mark":{"type":"text","font":"Liberation Sans","fontSize":10,"align":"right","baseline":"middle","color":"#222222"},"encoding":{"text":{"field":"text","type":"nominal"},"x":{"field":"px","type":"quantitative","scale":{"domain":[3120,2860],"zero":false,"nice":false}},"y":{"field":"py","type":"quantitative","scale":{"domain":[4150,4550],"zero":false,"nice":false}}}}
]},
{"width":590,"height":311,"layer":[
{"data":{"name":"ruleRR"},"mark":{"type":"rule","color":"#1a1a1a","strokeWidth":3},"encoding":{"x":{"field":"px","type":"quantitative","scale":{"domain":[935,1525],"zero":false,"nice":false},"axis":null},"x2":{"field":"px2"},"y":{"field":"ly","type":"quantitative","scale":{"domain":[-4.532374,17.841727],"reverse":true,"zero":false,"nice":false},"axis":null},"y2":{"field":"ly2"}}},
{"data":{"name":"refsR"},"transform":[{"filter":"datum.role == 'heading'"}],"mark":{"type":"text","fontSize":16.5,"align":"left","baseline":"middle"},"encoding":{"text":{"field":"text","type":"nominal"},"x":{"field":"px","type":"quantitative","scale":{"domain":[935,1525],"zero":false,"nice":false},"axis":null},"y":{"field":"ly","type":"quantitative","scale":{"domain":[-4.532374,17.841727],"reverse":true,"zero":false,"nice":false},"axis":null}}},
{"data":{"name":"refsR"},"transform":[{"filter":"datum.role == 'topic'"}],"mark":{"type":"text","fontSize":12.5,"fontStyle":"italic","fontWeight":"bold","align":"left","baseline":"middle"},"encoding":{"text":{"field":"text","type":"nominal"},"x":{"field":"px","type":"quantitative","scale":{"domain":[935,1525],"zero":false,"nice":false},"axis":null},"y":{"field":"ly","type":"quantitative","scale":{"domain":[-4.532374,17.841727],"reverse":true,"zero":false,"nice":false},"axis":null}}},
{"data":{"name":"refsR"},"transform":[{"filter":"datum.role == 'citation'"}],"mark":{"type":"text","fontSize":12.5,"fontStyle":"italic","align":"left","baseline":"middle"},"encoding":{"text":{"field":"text","type":"nominal"},"x":{"field":"px","type":"quantitative","scale":{"domain":[935,1525],"zero":false,"nice":false},"axis":null},"y":{"field":"ly","type":"quantitative","scale":{"domain":[-4.532374,17.841727],"reverse":true,"zero":false,"nice":false},"axis":null}}},
{"data":{"name":"refsR"},"transform":[{"filter":"datum.role == 'lab'"}],"mark":{"type":"text","font":"Liberation Sans","fontWeight":"bold","fontSize":21,"align":"center","baseline":"middle"},"encoding":{"text":{"field":"text","type":"nominal"},"x":{"field":"px","type":"quantitative","scale":{"domain":[935,1525],"zero":false,"nice":false},"axis":null},"y":{"field":"ly","type":"quantitative","scale":{"domain":[-4.532374,17.841727],"reverse":true,"zero":false,"nice":false},"axis":null}}},
{"data":{"name":"refsR"},"transform":[{"filter":"datum.role == 'address'"}],"mark":{"type":"text","fontSize":11,"fontStyle":"italic","align":"center","baseline":"middle","color":"#333333"},"encoding":{"text":{"field":"text","type":"nominal"},"x":{"field":"px","type":"quantitative","scale":{"domain":[935,1525],"zero":false,"nice":false},"axis":null},"y":{"field":"ly","type":"quantitative","scale":{"domain":[-4.532374,17.841727],"reverse":true,"zero":false,"nice":false},"axis":null}}}
]}
]}
]
}
